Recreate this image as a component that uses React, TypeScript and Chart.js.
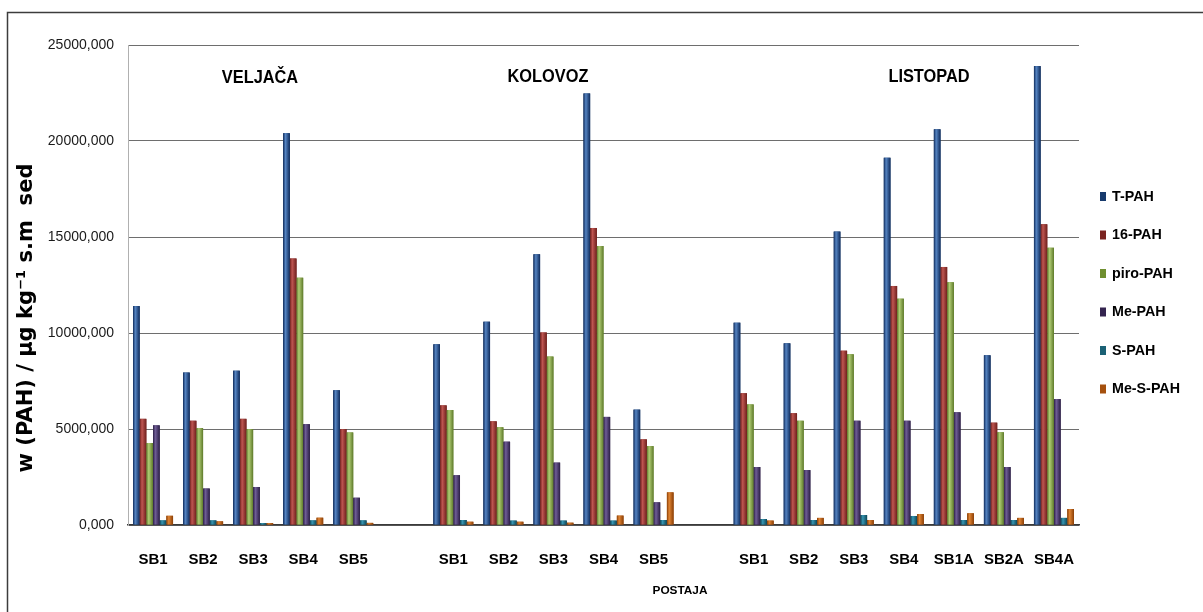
import { useEffect, useRef } from 'react';
import { Chart, registerables } from 'chart.js';

Chart.register(...registerables);

const categories = ['SB1', 'SB2', 'SB3', 'SB4', 'SB5', '', 'SB1', 'SB2', 'SB3', 'SB4', 'SB5', '', 'SB1', 'SB2', 'SB3', 'SB4', 'SB1A', 'SB2A', 'SB4A'];
const seriesNames = ['T-PAH', '16-PAH', 'piro-PAH', 'Me-PAH', 'S-PAH', 'Me-S-PAH'];
const tPAH = [11400, 7940, 8040, 20410, 7020, null, 9410, 10590, 14100, 22480, 6010, null, 10540, 9460, 15280, 19130, 20610, 8840, 23900];
const pah16 = [5530, 5430, 5530, 13880, 4990, null, 6230, 5400, 10030, 15470, 4460, null, 6860, 5820, 9080, 12450, 13440, 5330, 15660];
const piroPAH = [4270, 5050, 4990, 12880, 4820, null, 5990, 5090, 8770, 14530, 4110, null, 6280, 5430, 8890, 11790, 12640, 4830, 14440];
const mePAH = [5190, 1900, 1980, 5250, 1420, null, 2590, 4340, 3250, 5630, 1180, null, 3020, 2860, 5430, 5430, 5870, 3020, 6560];
const sPAH = [240, 240, 100, 240, 240, null, 260, 230, 230, 230, 260, null, 310, 260, 520, 470, 260, 260, 370];
const meSPAH = [480, 190, 100, 380, 110, null, 170, 170, 120, 490, 1700, null, 230, 370, 260, 570, 610, 370, 830];
const seriesValues = [tPAH, pah16, piroPAH, mePAH, sPAH, meSPAH];
const periodLabels = ['VELJAČA', 'KOLOVOZ', 'LISTOPAD'];
const yTitle = 'w (PAH) / μg kg⁻¹ s.m  sed';
const xTitle = 'POSTAJA';

const barDark = ['#0f2b5b', '#6e1f1c', '#5e7a2a', '#2b1e45', '#0d4656', '#8a3e05'];
const barLight = ['#5584c2', '#bf5651', '#b0cc74', '#6f5d96', '#3795b2', '#e08433'];
const legendColors = ['#173a6c', '#7a2320', '#6f8f30', '#34244f', '#1b6175', '#a5500e'];

function fitFont(ctx: CanvasRenderingContext2D, text: string, weight: string, family: string, target: number) {
  ctx.font = `${weight} 20px ${family}`;
  const w = ctx.measureText(text).width;
  const size = (20 * target) / w;
  return `${weight} ${size.toFixed(2)}px ${family}`;
}

const overlay = {
  id: 'overlay',
  beforeDraw(chart: any) {
    const ctx = chart.ctx as CanvasRenderingContext2D;
    ctx.save();
    ctx.fillStyle = '#ffffff';
    ctx.fillRect(0, 0, chart.width, chart.height);
    ctx.strokeStyle = '#3c3c3c';
    ctx.lineWidth = 1.5;
    ctx.beginPath();
    ctx.moveTo(7.5, chart.height + 2);
    ctx.lineTo(7.5, 12.5);
    ctx.lineTo(chart.width + 2, 12.5);
    ctx.stroke();
    ctx.restore();
  },
  afterDatasetsDraw(chart: any) {
    const ctx = chart.ctx as CanvasRenderingContext2D;
    ctx.save();
    chart.data.datasets.forEach((ds: any, i: number) => {
      const meta = chart.getDatasetMeta(i);
      meta.data.forEach((el: any, j: number) => {
        if (ds.data[j] == null) return;
        const { x, y, base, width } = el.getProps(['x', 'y', 'base', 'width'], true);
        const left = x - width / 2;
        const g = ctx.createLinearGradient(left, 0, left + width, 0);
        g.addColorStop(0, barDark[i]);
        g.addColorStop(0.35, barLight[i]);
        g.addColorStop(1, barDark[i]);
        ctx.fillStyle = g;
        ctx.fillRect(left, y, width, base - y);
      });
    });
    ctx.restore();
  },
  afterDraw(chart: any) {
    const ctx = chart.ctx as CanvasRenderingContext2D;
    const fam = '"Liberation Sans", Arial, sans-serif';
    ctx.save();
    ctx.fillStyle = '#000';
    ctx.textBaseline = 'middle';
    ctx.textAlign = 'center';
    // period annotations
    ctx.font = fitFont(ctx, 'KOLOVOZ', 'bold', fam, 81);
    const ann = [[260, 78], [548, 77], [929, 77]];
    periodLabels.forEach((t, i) => {
      ctx.save();
      ctx.translate(ann[i][0], ann[i][1]);
      ctx.scale(1, 1.15);
      ctx.fillText(t, 0, 0);
      ctx.restore();
    });
    // x title
    ctx.font = fitFont(ctx, xTitle, 'bold', fam, 55);
    ctx.fillText(xTitle, 680, 591);
    // y title
    ctx.save();
    ctx.translate(27, 318);
    ctx.rotate(-Math.PI / 2);
    ctx.font = fitFont(ctx, yTitle, 'bold', '"DejaVu Sans", Verdana, sans-serif', 309);
    ctx.fillText(yTitle, 0, 0);
    ctx.restore();
    // legend
    ctx.textAlign = 'left';
    ctx.font = fitFont(ctx, 'Me-S-PAH', 'bold', fam, 68);
    seriesNames.forEach((n, i) => {
      const yy = 196.5 + i * 38.5;
      ctx.fillStyle = legendColors[i];
      ctx.fillRect(1100, yy - 4.5, 6, 9);
      ctx.fillStyle = '#000';
      ctx.fillText(n, 1112, yy + 0.5);
    });
    ctx.restore();
  },
};

export default function App() {
  const ref = useRef<HTMLCanvasElement>(null);
  useEffect(() => {
    document.body.style.margin = '0';
    const chart = new Chart(ref.current as HTMLCanvasElement, {
      type: 'bar',
      data: {
        labels: categories,
        datasets: seriesNames.map((n, i) => ({
          label: n,
          data: seriesValues[i],
          backgroundColor: legendColors[i],
          borderWidth: 0,
          categoryPercentage: 0.8,
          barPercentage: 1.0,
        })),
      },
      options: {
        animation: false,
        responsive: false,
        devicePixelRatio: 1,
        layout: { padding: { left: 0, right: 124, top: 45, bottom: 0 } },
        plugins: { legend: { display: false }, tooltip: { enabled: false } },
        scales: {
          x: {
            grid: { display: false, drawTicks: false },
            border: { display: true, color: '#3a3a3a', width: 1.5 },
            ticks: {
              color: '#000',
              padding: 26,
              autoSkip: false,
              maxRotation: 0,
              font: { family: '"Liberation Sans", Arial, sans-serif', size: 15, weight: 'bold' },
            },
            afterFit: (s: any) => { s.height = 87; },
          },
          y: {
            min: 0,
            max: 25000,
            ticks: {
              stepSize: 5000,
              color: '#1a1a1a',
              padding: 14,
              font: { family: '"Liberation Sans", Arial, sans-serif', size: 14 },
              callback: (v: any) => `${v},000`,
            },
            grid: { color: '#6e6e6e', lineWidth: 1, drawTicks: false },
            border: { display: true, color: '#b0b0b0', width: 1 },
            afterFit: (s: any) => { s.width = 128; },
          },
        },
      },
      plugins: [overlay],
    });
    return () => chart.destroy();
  }, []);
  return (
    <div style={{ width: 1203, height: 612, background: '#fff' }}>
      <canvas ref={ref} width={1203} height={612} />
    </div>
  );
}
